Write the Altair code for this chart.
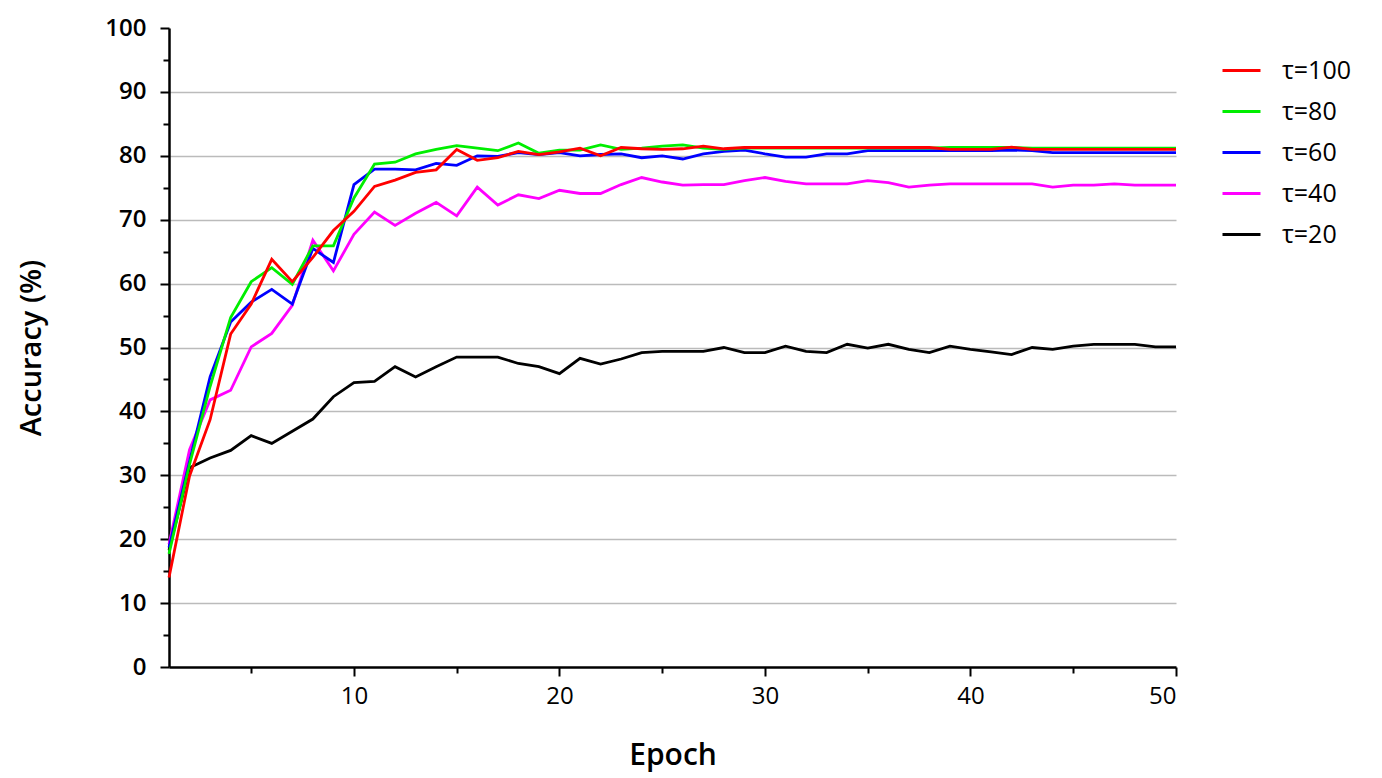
import altair as alt
import pandas as pd

epochs = list(range(1, 51))
series_names = ["τ=20", "τ=40", "τ=60", "τ=80", "τ=100"]

tau20 = [18.3, 31.2, 32.7, 33.9, 36.2, 35.0, 36.9, 38.8, 42.3, 44.5,
         44.7, 47.0, 45.4, 47.0, 48.5, 48.5, 48.5, 47.5, 47.0, 45.9,
         48.3, 47.4, 48.2, 49.2, 49.4, 49.4, 49.4, 50.0, 49.2, 49.2,
         50.2, 49.4, 49.2, 50.5, 49.9, 50.5, 49.7, 49.2, 50.2, 49.7,
         49.3, 48.9, 50.0, 49.7, 50.2, 50.5, 50.5, 50.5, 50.1, 50.1]
tau40 = [19.2, 34.0, 41.8, 43.3, 50.1, 52.2, 56.6, 66.8, 62.0, 67.7,
         71.2, 69.1, 71.0, 72.7, 70.6, 75.1, 72.3, 73.9, 73.3, 74.6,
         74.1, 74.1, 75.5, 76.6, 75.9, 75.4, 75.5, 75.5, 76.1, 76.6,
         76.0, 75.6, 75.6, 75.6, 76.1, 75.8, 75.1, 75.4, 75.6, 75.6,
         75.6, 75.6, 75.6, 75.1, 75.4, 75.4, 75.6, 75.4, 75.4, 75.4]
tau60 = [18.7, 32.2, 45.4, 54.0, 57.1, 59.1, 56.8, 65.5, 63.3, 75.5,
         77.9, 77.9, 77.8, 78.8, 78.5, 80.0, 79.9, 80.5, 80.2, 80.5,
         80.0, 80.2, 80.3, 79.7, 80.0, 79.5, 80.3, 80.7, 80.9, 80.3,
         79.8, 79.8, 80.3, 80.3, 80.8, 80.8, 80.8, 80.8, 80.8, 80.8,
         80.8, 80.9, 80.8, 80.5, 80.5, 80.5, 80.5, 80.5, 80.5, 80.5]
tau80 = [17.7, 31.7, 43.9, 54.7, 60.3, 62.5, 59.9, 65.9, 65.9, 73.4,
         78.7, 79.0, 80.3, 81.0, 81.6, 81.2, 80.8, 82.0, 80.4, 80.9,
         80.9, 81.7, 81.0, 81.2, 81.5, 81.7, 81.2, 81.0, 81.2, 81.2,
         81.2, 81.2, 81.2, 81.2, 81.2, 81.2, 81.2, 81.2, 81.3, 81.3,
         81.3, 81.3, 81.2, 81.2, 81.2, 81.2, 81.2, 81.2, 81.2, 81.2]
tau100 = [14.0, 29.9, 38.7, 52.1, 56.8, 63.8, 60.3, 64.1, 68.3, 71.3,
          75.2, 76.2, 77.4, 77.8, 81.0, 79.3, 79.7, 80.7, 80.2, 80.6,
          81.2, 80.0, 81.3, 81.1, 81.0, 81.1, 81.5, 81.1, 81.3, 81.3,
          81.3, 81.3, 81.3, 81.3, 81.3, 81.3, 81.3, 81.3, 81.0, 81.0,
          81.0, 81.35, 81.0, 81.0, 81.0, 81.0, 81.0, 81.0, 81.0, 81.0]

series_values = [tau20, tau40, tau60, tau80, tau100]
rows = []
for name, vals in zip(series_names, series_values):
    for e, v in zip(epochs, vals):
        rows.append({"Epoch": e, "Accuracy": v, "Series": name})
df = pd.DataFrame(rows)

legend_order = ["τ=100", "τ=80", "τ=60", "τ=40", "τ=20"]
legend_colors = ["#ff0000", "#00ee00", "#0000ff", "#ff00ff", "#000000"]

font = "Open Sans"

chart = alt.Chart(df).mark_line(strokeWidth=2.8).encode(
    x=alt.X("Epoch:Q",
            scale=alt.Scale(domain=[1, 50], nice=False, zero=False),
            axis=alt.Axis(
                title="Epoch",
                values=[5, 10, 15, 20, 25, 30, 35, 40, 45, 50],
                labelExpr="datum.value % 10 === 0 ? datum.label : ''",
                tickSize={"condition": {"test": "datum.value % 10 === 0", "value": 9}, "value": 6},
                grid=False,
                domainColor="#000", domainWidth=2.5,
                tickColor="#000", tickWidth=2,
                labelFont=font, labelFontSize=24, labelColor="#000",
                labelPadding=8,
                titleFont=font, titleFontSize=30, titleFontWeight=600,
                titleColor="#000", titlePadding=32,
            )),
    y=alt.Y("Accuracy:Q",
            scale=alt.Scale(domain=[0, 100], nice=False),
            axis=alt.Axis(
                title="Accuracy (%)",
                values=list(range(0, 101, 5)),
                labelExpr="datum.value % 10 === 0 ? datum.label : ''",
                tickSize={"condition": {"test": "datum.value % 10 === 0", "value": 9}, "value": 6},
                grid=True,
                gridColor="#bbbbbb", gridWidth=1.5,
                gridOpacity={"condition": {"test": "datum.value % 10 === 0 && datum.value > 0 && datum.value < 100", "value": 1}, "value": 0},
                domainColor="#000", domainWidth=2.5,
                tickColor="#000", tickWidth=2,
                labelFont=font, labelFontSize=24, labelFontWeight=600,
                labelColor="#000", labelPadding=14,
                titleFont=font, titleFontSize=29, titleFontWeight=600,
                titleColor="#000", titlePadding=58,
            )),
    color=alt.Color("Series:N",
                    scale=alt.Scale(domain=legend_order, range=legend_colors),
                    legend=alt.Legend(
                        title=None, orient="none", legendX=1052, legendY=22,
                        symbolType="stroke", symbolSize=1444, symbolStrokeWidth=3,
                        rowPadding=7, labelFont=font, labelFontSize=25,
                        labelColor="#000", labelOffset=20,
                    )),
).properties(
    width=1007,
    height=639,
    autosize=alt.AutoSizeParams(type="none"),
    padding={"left": 161, "top": 20, "right": 190, "bottom": 110},
).configure_view(stroke=None)

chart.save("out.html", embed_options={"renderer": "svg", "actions": False})
